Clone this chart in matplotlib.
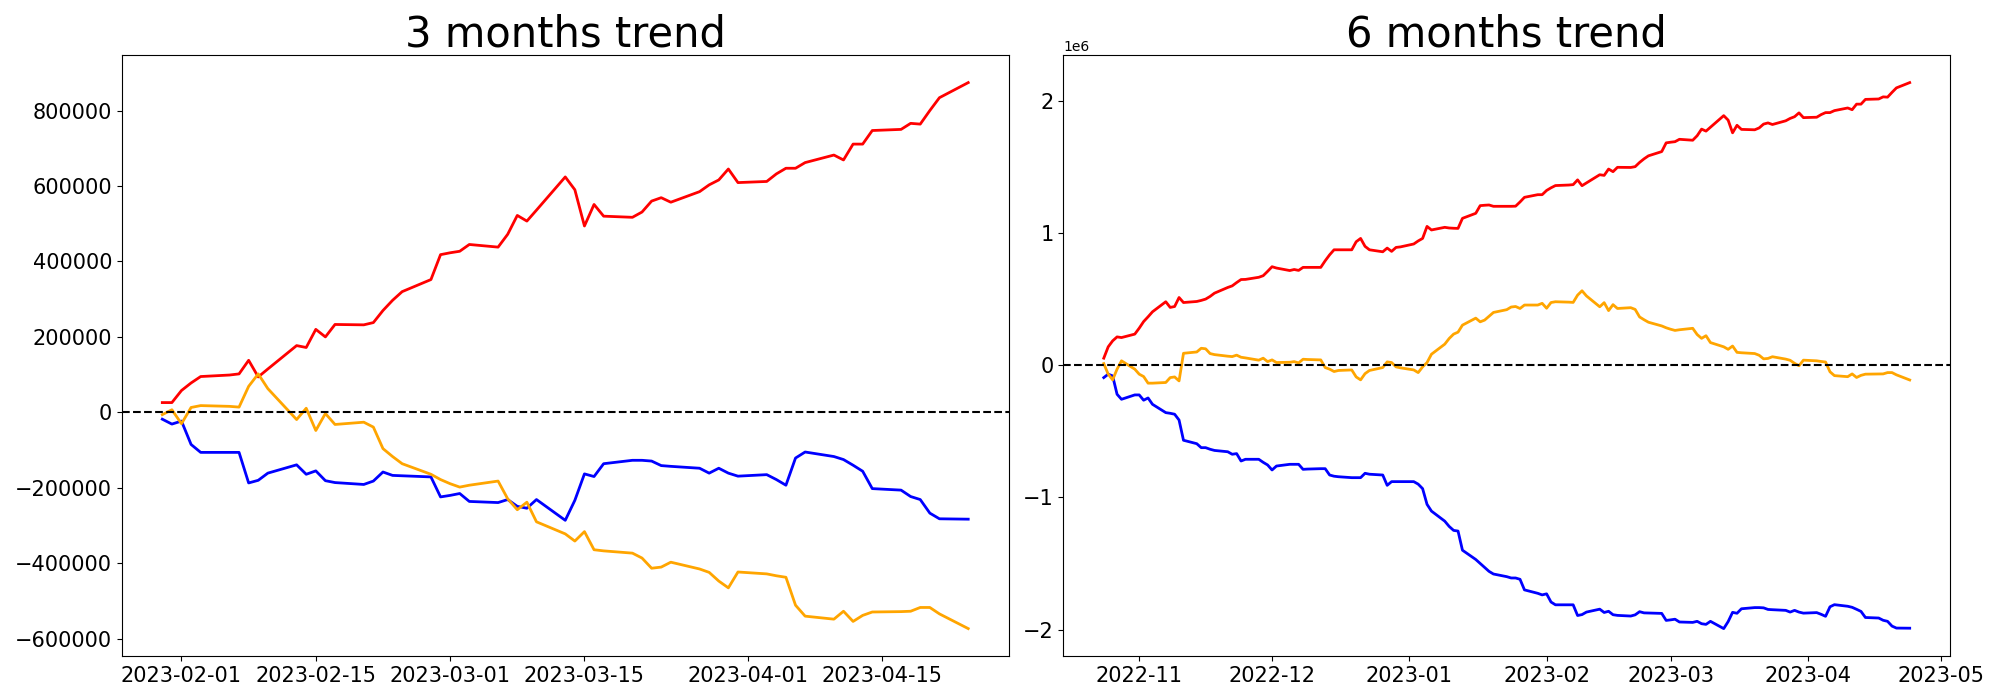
import matplotlib
matplotlib.use('Agg')
import matplotlib.pyplot as plt
import numpy as np
import pandas as pd

# --- Data (values in thousands) ---
# 3 months window: business days 2023-01-30 .. 2023-04-24
dates_3m = pd.bdate_range('2023-01-30', '2023-04-24')
red_3m = [26, 26, 58, 78, 95, 99, 102, 138, 94, 115,
          177, 172, 220, 200, 233, 232, 238, 270, 297, 320,
          352, 418, 423, 427, 445, 438, 472, 522, 507, 536,
          624, 590, 494, 551, 520, 517, 531, 560, 569, 557,
          585, 603, 616, 645, 609, 612, 632, 647, 647, 662,
          682, 669, 711, 711, 747, 750, 766, 764, 800, 834,
          874]
blue_3m = [-18, -31, -23, -85, -106, -106, -106, -187, -180, -161,
           -139, -164, -155, -181, -186, -191, -182, -158, -167, -168,
           -171, -224, -220, -215, -236, -239, -231, -249, -254, -231,
           -286, -233, -163, -170, -136, -127, -127, -129, -141, -143,
           -148, -161, -148, -161, -169, -165, -178, -193, -121, -105,
           -117, -125, -140, -156, -202, -206, -223, -231, -267, -282,
           -283]
orange_3m = [-6, 7, -30, 13, 18, 16, 14, 69, 102, 63,
             -19, 11, -48, -3, -32, -26, -39, -96, -117, -136,
             -164, -178, -189, -198, -193, -182, -229, -258, -238, -290,
             -322, -341, -316, -364, -367, -373, -386, -413, -410, -397,
             -415, -424, -447, -465, -423, -428, -433, -437, -511, -540,
             -548, -527, -554, -538, -529, -528, -527, -517, -517, -534,
             -573]

# 6 months window: business days 2022-10-24 .. 2023-04-24
dates_6m = pd.bdate_range('2022-10-24', '2023-04-24')
red_6m = [53, 139, 184, 214, 209, 235, 280, 330, 366, 404,
          480, 437, 444, 512, 474, 482, 490, 500, 520, 545,
          588, 600, 625, 648, 649, 665, 677, 710, 745, 735,
          716, 724, 717, 740, 740, 740, 790, 835, 873, 873,
          873, 934, 959, 899, 873, 858, 886, 861, 891, 895,
          917, 940, 959, 1050, 1023, 1043, 1038, 1036, 1035, 1111,
          1149, 1207, 1210, 1212, 1202, 1202, 1202, 1203, 1235, 1270,
          1290, 1290, 1322, 1342, 1359, 1363, 1366, 1402, 1358, 1379,
          1441, 1436, 1484, 1464, 1497, 1496, 1502, 1534, 1561, 1584,
          1616, 1682, 1687, 1691, 1709, 1702, 1736, 1786, 1771, 1800,
          1888, 1854, 1758, 1815, 1784, 1781, 1795, 1824, 1833, 1821,
          1849, 1867, 1880, 1909, 1873, 1876, 1896, 1911, 1911, 1926,
          1946, 1933, 1975, 1975, 2011, 2014, 2030, 2028, 2064, 2098,
          2138]
blue_6m = [-94, -68, -81, -220, -258, -225, -225, -265, -248, -296,
           -359, -364, -371, -415, -568, -594, -624, -624, -636, -645,
           -655, -674, -669, -725, -712, -712, -735, -755, -793, -763,
           -750, -750, -750, -788, -786, -783, -783, -831, -840, -844,
           -851, -851, -851, -818, -825, -831, -909, -881, -881, -881,
           -881, -900, -934, -1053, -1104, -1180, -1220, -1250, -1255, -1400,
           -1470, -1500, -1530, -1560, -1580, -1600, -1610, -1610, -1620, -1700,
           -1726, -1738, -1730, -1792, -1813, -1813, -1813, -1894, -1887, -1868,
           -1846, -1871, -1862, -1888, -1893, -1898, -1889, -1865, -1874, -1875,
           -1878, -1931, -1927, -1922, -1943, -1946, -1938, -1956, -1961, -1938,
           -1993, -1940, -1870, -1877, -1843, -1834, -1834, -1836, -1848, -1850,
           -1855, -1868, -1855, -1868, -1876, -1872, -1885, -1900, -1828, -1812,
           -1824, -1832, -1847, -1863, -1909, -1913, -1930, -1938, -1974, -1989,
           -1990]
orange_6m = [12, -68, -111, -30, 33, -30, -68, -86, -136, -136,
             -131, -94, -89, -119, 90, 100, 128, 124, 88, 80,
             68, 65, 76, 60, 55, 38, 53, 27, 40, 20,
             22, 27, 17, 45, 43, 40, -18, -30, -48, -40,
             -36, -89, -111, -64, -40, -18, 25, 20, -13, -20,
             -36, -56, -13, 20, 83, 159, 202, 235, 250, 303,
             356, 328, 341, 370, 399, 420, 440, 444, 429, 455,
             455, 468, 431, 474, 480, 477, 475, 530, 563, 524,
             442, 473, 413, 458, 429, 435, 422, 365, 344, 325,
             297, 283, 272, 263, 268, 279, 232, 203, 223, 171,
             139, 120, 145, 97, 94, 88, 75, 48, 51, 64,
             46, 37, 14, -4, 38, 33, 28, 24, -50, -79,
             -87, -66, -93, -77, -68, -67, -66, -56, -56, -73,
             -112]

panels = [
    ('3 months trend', dates_3m, red_3m, blue_3m, orange_3m),
    ('6 months trend', dates_6m, red_6m, blue_6m, orange_6m),
]

# --- Plotting ---
fig, axes = plt.subplots(1, 2, figsize=(20, 7), dpi=100)

for ax, (title, dates, red, blue, orange) in zip(axes, panels):
    ax.plot(dates, np.array(red) * 1000, color='red', linewidth=2)
    ax.plot(dates, np.array(blue) * 1000, color='blue', linewidth=2)
    ax.plot(dates, np.array(orange) * 1000, color='orange', linewidth=2)
    ax.axhline(0, color='black', linestyle='--', linewidth=1.5)
    ax.set_title(title, fontsize=30)
    ax.tick_params(axis='both', labelsize=15)

plt.subplots_adjust(left=0.061, right=0.975, top=0.921, bottom=0.063, wspace=0.062)
plt.savefig('out.png')
